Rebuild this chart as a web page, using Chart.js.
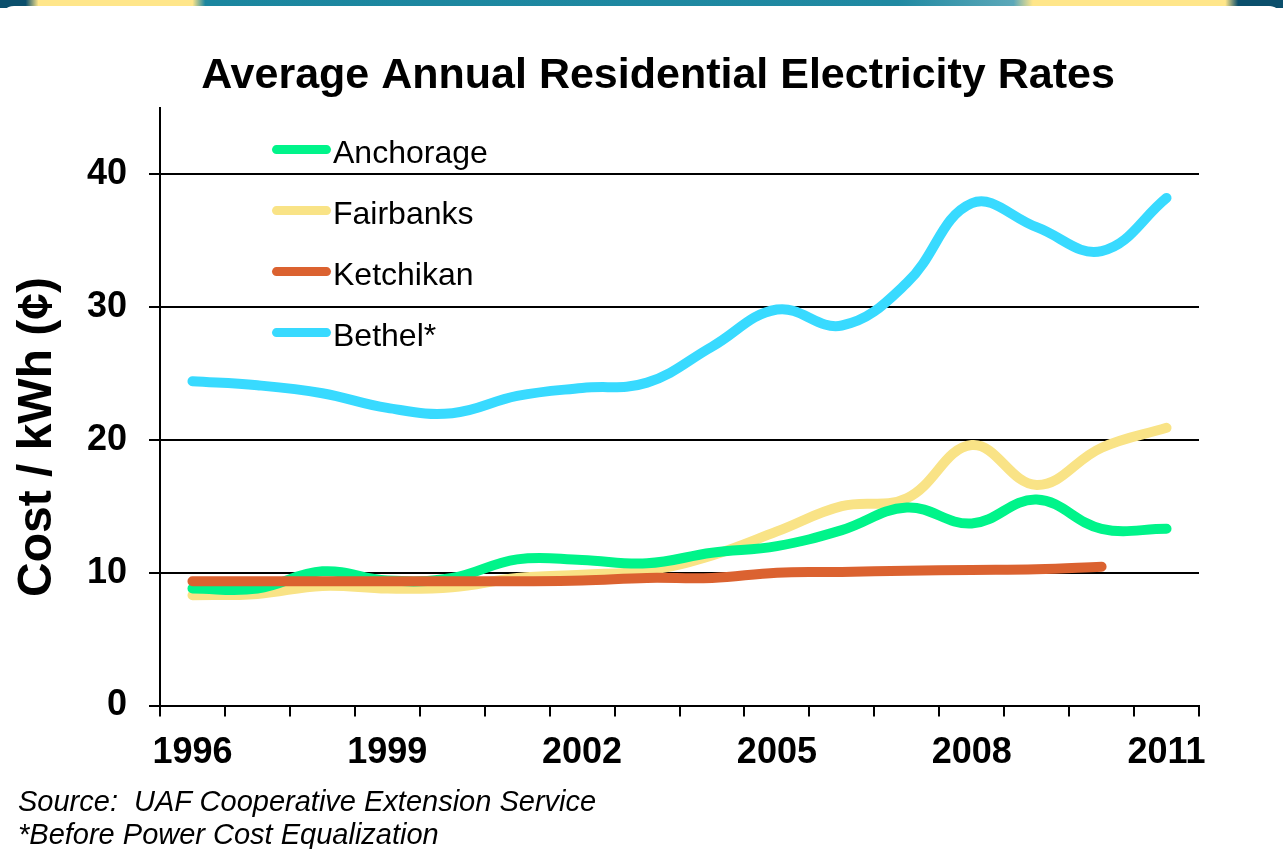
<!DOCTYPE html>
<html>
<head>
<meta charset="utf-8">
<title>Average Annual Residential Electricity Rates</title>
<script src="https://cdn.jsdelivr.net/npm/chart.js"></script>
<style>
  body {
    margin: 0;
    width: 1283px;
    height: 849px;
    overflow: hidden;
    position: relative;
    font-family: "Liberation Sans", Arial, sans-serif;
    background: #fff;
  }
  #band {
    position: absolute; left: 0; top: 0; width: 1283px; height: 8px;
    background: linear-gradient(90deg, #0b4f6c 0%, #0b4f6c 2%, #ffe68a 3%, #ffe68a 15%, #1b869f 16%,
      #2089a2 70%, #5ca8b9 79%, #ffe68a 80.5%, #ffe68a 95.5%, #0b4f6c 96.5%, #0b4f6c 100%);
  }
  #panel {
    position: absolute; left: 0; top: 6px; width: 1283px; height: 843px;
    background: #fff; border-radius: 14px 14px 0 0;
  }
  #chartBox { position: absolute; left: 0; top: 0; }
  .note {
    position: absolute; left: 18px; top: 785px;
    font-style: italic; font-size: 29px; line-height: 33px; color: #000;
    white-space: pre;
  }
</style>
</head>
<body>
<div id="band"></div>
<div id="panel"></div>
<canvas id="chartBox" width="1283" height="849"></canvas>
<div class="note">Source:  UAF Cooperative Extension Service
*Before Power Cost Equalization</div>

<script>
// values, cents per kWh
var years = ['1996', '1997', '1998', '1999', '2000', '2001', '2002', '2003',
             '2004', '2005', '2006', '2007', '2008', '2009', '2010', '2011'];
var shownYears = ['1996', '1999', '2002', '2005', '2008', '2011'];
var yTicks = [0, 10, 20, 30, 40];

var anchorage = [8.8, 8.8, 10.1, 9.4, 9.6, 11.0, 10.95, 10.7, 11.5, 12.0, 13.2, 14.9, 13.7, 15.5, 13.3, 13.3];
var fairbanks = [8.3, 8.4, 9.0, 8.8, 8.9, 9.6, 9.85, 10.15, 11.3, 13.1, 15.0, 15.6, 19.6, 16.6, 19.4, 20.9];
var ketchikan = [9.35, 9.35, 9.35, 9.35, 9.35, 9.35, 9.4, 9.6, 9.6, 10.0, 10.05, 10.15, 10.2, 10.25, 10.45, null];
var bethel = [24.4, 24.1, 23.5, 22.4, 22.0, 23.3, 23.9, 24.3, 27.0, 29.8, 28.6, 31.8, 37.8, 36.0, 34.2, 38.2];

var fontFamily = '"Liberation Sans", Arial, sans-serif';

function line(label, data, color, order) {
    return {
        label: label,
        data: data,
        borderColor: color,
        backgroundColor: color,
        borderWidth: 10,
        borderCapStyle: 'round',
        borderJoinStyle: 'round',
        pointRadius: 0,
        tension: 0.4,
        fill: false,
        order: order
    };
}

const legendInside = {
    id: 'legendInside',
    afterDatasetsDraw: function (chart) {
        const c = chart.ctx, area = chart.chartArea;
        c.save();
        c.font = '32px ' + fontFamily;
        c.textBaseline = 'middle';
        chart.data.datasets.forEach(function (ds, i) {
            const y = area.top + 42 + i * 61;
            c.strokeStyle = ds.borderColor;
            c.lineWidth = 9;
            c.lineCap = 'round';
            c.beginPath();
            c.moveTo(area.left + 116.5, y);
            c.lineTo(area.left + 166.5, y);
            c.stroke();
            c.fillStyle = '#000';
            c.fillText(ds.label, area.left + 173, y + 5);
        });
        c.restore();
    }
};

const yTitle = {
    id: 'yTitle',
    // the y scale box is narrow so the title can be centred like the original; widen it for its labels
    afterLayout: function (chart) {
        chart.scales.y.left = 0;
    },
    afterDraw: function (chart) {
        const c = chart.ctx;
        c.save();
        c.translate(38, 437);
        c.rotate(-Math.PI / 2);
        c.font = 'bold 48px ' + fontFamily;
        c.textAlign = 'center';
        c.textBaseline = 'middle';
        c.fillStyle = '#000';
        c.fillText('Cost / kWh (\u00a2)', 0, 0);
        c.restore();
    }
};

let ctx = document.getElementById('chartBox').getContext('2d');

new Chart(ctx, {
    type: 'line',
    data: {
        labels: years,
        datasets: [
            line('Anchorage', anchorage, '#00f48a', 1),
            line('Fairbanks', fairbanks, '#f9e386', 2),
            line('Ketchikan', ketchikan, '#db6230', 0),
            line('Bethel*', bethel, '#38daff', 3)
        ]
    },
    options: {
        responsive: false,
        animation: false,
        events: [],
        devicePixelRatio: 1,
        layout: { padding: { left: 117, right: 84, top: 0, bottom: 0 } },
        plugins: {
            legend: { display: false },
            tooltip: { enabled: false },
            title: {
                display: true,
                text: 'Average Annual Residential Electricity Rates',
                color: '#000',
                font: { family: fontFamily, size: 43, weight: 'bold' },
                padding: { top: 50, bottom: 6 }
            }
        },
        scales: {
            x: {
                offset: true,
                grid: {
                    offset: true,
                    drawOnChartArea: false,
                    drawTicks: true,
                    tickLength: 11,
                    color: '#000',
                    lineWidth: 2
                },
                border: { display: true, color: '#000', width: 2 },
                ticks: {
                    autoSkip: false,
                    maxRotation: 0,
                    padding: 15,
                    color: '#000',
                    font: { family: fontFamily, size: 36, weight: 'bold' },
                    callback: function (val) {
                        var y = this.getLabelForValue(val);
                        return shownYears.indexOf(y) >= 0 ? y : '';
                    }
                },
                afterFit: function (scale) { scale.height = 143.5; }
            },
            y: {
                min: 0,
                max: 45,
                grid: {
                    color: '#000',
                    lineWidth: 2,
                    tickLength: 11
                },
                border: { display: true, color: '#000', width: 2 },
                ticks: {
                    padding: 22,
                    color: '#000',
                    font: { family: fontFamily, size: 36, weight: 'bold' }
                },
                afterBuildTicks: function (scale) {
                    scale.ticks = yTicks.map(function (v) { return { value: v }; });
                },
                afterFit: function (scale) { scale.width = 43; }
            }
        }
    },
    plugins: [legendInside, yTitle]
});
</script>
</body>
</html>
